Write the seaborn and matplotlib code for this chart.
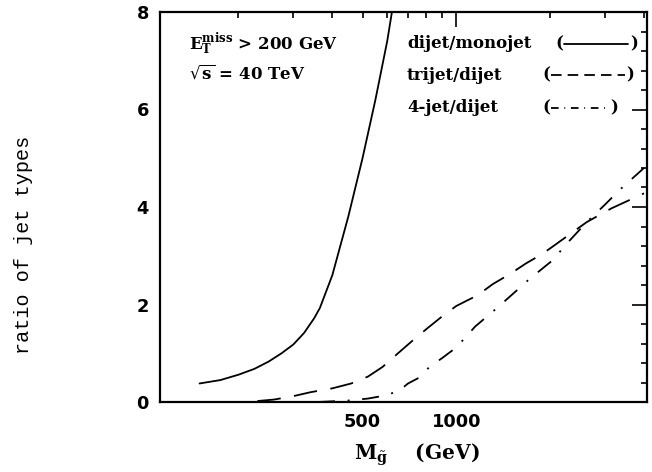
import numpy as np
import pandas as pd
import matplotlib
matplotlib.use("Agg")
import matplotlib.pyplot as plt
import seaborn as sns
from matplotlib.ticker import FixedLocator, FuncFormatter, MultipleLocator

# ---- data ----
m_dijet_mono = [150, 175, 200, 225, 250, 275, 300, 325, 350, 365, 400, 450, 500, 550, 600, 625]
r_dijet_mono = [0.38, 0.45, 0.56, 0.68, 0.83, 1.00, 1.18, 1.42, 1.72, 1.93, 2.60, 3.80, 5.00, 6.20, 7.40, 8.10]

m_trijet = [230, 260, 300, 340, 400, 460, 520, 580, 650, 730, 810, 910, 1000, 1170, 1310, 1490, 1670, 1890, 2060, 2620, 3140, 4000]
r_trijet = [0.02, 0.05, 0.12, 0.20, 0.28, 0.38, 0.52, 0.72, 1.00, 1.28, 1.52, 1.78, 1.97, 2.19, 2.42, 2.63, 2.84, 3.04, 3.21, 3.69, 3.97, 4.28]

m_4jet = [360, 450, 520, 600, 660, 700, 760, 820, 900, 1000, 1150, 1340, 1570, 1700, 2030, 2300, 2620, 3000, 3340, 4000]
r_4jet = [0.00, 0.03, 0.07, 0.14, 0.25, 0.38, 0.50, 0.72, 0.90, 1.12, 1.55, 1.91, 2.30, 2.50, 2.90, 3.30, 3.69, 4.05, 4.35, 4.80]

series_names = ["dijet/monojet", "trijet/dijet", "4-jet/dijet"]
x_ticklabels = {500: "500", 1000: "1000"}
y_ticks = [0, 2, 4, 6, 8]

df = pd.concat([
    pd.DataFrame({"M": m_dijet_mono, "ratio": r_dijet_mono, "kind": series_names[0]}),
    pd.DataFrame({"M": m_trijet, "ratio": r_trijet, "kind": series_names[1]}),
    pd.DataFrame({"M": m_4jet, "ratio": r_4jet, "kind": series_names[2]}),
], ignore_index=True)

sns.set_theme(style="white")
plt.rcParams["font.family"] = ["DejaVu Sans"]
plt.rcParams["mathtext.fontset"] = "dejavuserif"
plt.rcParams["text.color"] = "black"
plt.rcParams["axes.labelcolor"] = "black"

LW = 1.3
dash_styles = {
    series_names[0]: "",
    series_names[1]: (13, 7.5),
    series_names[2]: (9.4, 7.0, 1.1, 7.0),
}

fig = plt.figure(figsize=(6.52, 4.72), dpi=100)
ax = fig.add_axes([160 / 652, 1 - 402 / 472, 487 / 652, 390 / 472])
ax.set_xscale("log")

sns.lineplot(data=df, x="M", y="ratio", hue="kind", style="kind",
             palette={n: "black" for n in series_names}, dashes=dash_styles,
             linewidth=LW, sort=False, estimator=None, legend=False, ax=ax)

ax.set_xlim(112, 4090)
ax.set_ylim(0, 8)

# ticks
ax.xaxis.set_major_locator(FixedLocator([1000]))
ax.xaxis.set_major_formatter(FuncFormatter(lambda v, p: x_ticklabels.get(int(round(v)), "")))
ax.xaxis.set_minor_locator(FixedLocator([200, 300, 400, 500, 600, 700, 800, 900, 2000, 3000, 4000]))
ax.xaxis.set_minor_formatter(FuncFormatter(lambda v, p: x_ticklabels.get(int(round(v)), "")))
ax.yaxis.set_major_locator(FixedLocator(y_ticks))
ax.yaxis.set_minor_locator(MultipleLocator(0.4))
ax.yaxis.set_major_formatter(FuncFormatter(lambda v, p: f"{int(v)}"))

ax.tick_params(which="both", direction="in", top=True, right=True, colors="black",
               labelsize=12.8, width=1.2)
ax.tick_params(which="major", length=11, pad=8)
ax.tick_params(which="minor", length=4.5, pad=8)
for lbl in ax.get_xticklabels(which="both") + ax.get_yticklabels():
    lbl.set_fontweight("bold")

for sp in ax.spines.values():
    sp.set_color("black")
    sp.set_linewidth(1.6)

ax.set_xlabel(r"M$_{\tilde{\mathbf{g}}}$    (GeV)", fontsize=14.5, fontfamily="DejaVu Serif",
              fontweight="bold", color="black")
ax.xaxis.set_label_coords((417 - 160) / 487, -(452 - 402 - 10) / 390)
ax.set_ylabel("ratio of jet types", fontsize=14.5, fontfamily="Liberation Mono", color="black")
ax.yaxis.set_label_coords(-(160 - 33) / 487, (402 - 245) / 390)

serif = dict(fontfamily="DejaVu Serif", fontweight="bold", fontsize=12, color="black",
             transform=ax.transAxes, va="center")
ax.text(0.06, 0.918, r"E$_{\mathbf{T}}^{\mathbf{miss}}$ > 200 GeV", **serif)
ax.text(0.06, 0.843, r"$\sqrt{\mathbf{s}}$ = 40 TeV", **serif)

rows = [
    (series_names[0], 0.918, 0.812, 0.830, 0.962, 0.965),
    (series_names[1], 0.838, 0.785, 0.802, 0.955, 0.958),
    (series_names[2], 0.754, 0.785, 0.802, 0.922, 0.925),
]
for name, yy, xp, x0, x1, xq in rows:
    ax.text(0.507, yy, name, **serif)
    ax.text(xp, yy, "(", **serif)
    ax.text(xq, yy, ")", **serif)
    ln, = ax.plot([x0, x1], [yy, yy], color="black", lw=LW, transform=ax.transAxes,
                  clip_on=False)
    if dash_styles[name]:
        ln.set_dashes([d * 0.45 for d in dash_styles[name]])

fig.savefig("out.png", dpi=100)
